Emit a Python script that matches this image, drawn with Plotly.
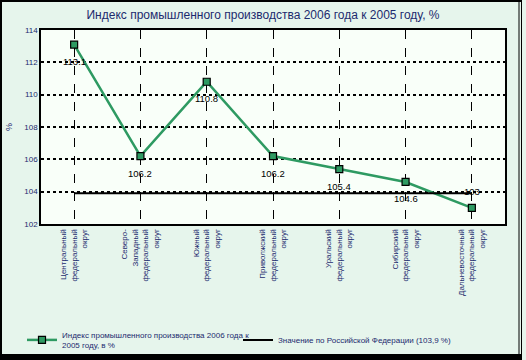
import plotly.graph_objects as go

categories = [
    "Центральный<br>федеральный<br>округ",
    "Северо-<br>Западный<br>федеральный<br>округ",
    "Южный<br>федеральный<br>округ",
    "Приволжский<br>федеральный<br>округ",
    "Уральский<br>федеральный<br>округ",
    "Сибирский<br>федеральный<br>округ",
    "Дальневосточный<br>федеральный<br>округ",
]
index_values = [113.1, 106.2, 110.8, 106.2, 105.4, 104.6, 103.0]
label_texts = ["113.1", "106.2", "110.8", "106.2", "105.4", "104.6", "103"]
label_below = [True, True, True, True, True, True, False]
russia_value = 103.9
y_ticks = [102, 104, 106, 108, 110, 112, 114]

FONT = "Liberation Sans Narrow, Arial Narrow, Liberation Sans, sans-serif"
NAVY = "#1c2a6e"
GREEN = "#2e9a62"

W, H = 526, 360
ML, MR, MT, MB = 41, 21, 30, 136
PW, PH = W - ML - MR, H - MT - MB


def px(x):
    return (x - ML) / PW


def py(y):
    return (H - MB - y) / PH


xs = list(range(len(categories)))

fig = go.Figure()
fig.add_trace(go.Scatter(
    x=xs, y=index_values,
    mode="lines+markers",
    line=dict(color=GREEN, width=2.5),
    marker=dict(symbol="square", size=7, color=GREEN, line=dict(color="black", width=1.2)),
    name="Индекс промышленного производства 2006 года к<br>2005 году, в %",
    legend="legend",
))
fig.add_trace(go.Scatter(
    x=xs, y=[russia_value] * len(categories),
    mode="lines", line=dict(color="black", width=2),
    name="Значение по Российской Федерации (103,9 %)",
    hoverinfo="skip",
    legend="legend2",
))

for xv, yv, t, below in zip(xs, index_values, label_texts, label_below):
    fig.add_annotation(x=xv, y=yv, text=t, showarrow=False,
                       yshift=-17 if below else 16,
                       font=dict(family=FONT, size=9.5, color="black"))

legend_common = dict(font=dict(family=FONT, size=8, color=NAVY),
                     bgcolor="rgba(0,0,0,0)", itemwidth=30, yanchor="middle", xanchor="left")

fig.update_layout(
    width=W, height=H,
    margin=dict(l=ML, r=MR, t=MT, b=MB, autoexpand=False),
    paper_bgcolor="#e6f5ec",
    plot_bgcolor="#f9fff9",
    title=dict(text="Индекс промышленного производства 2006 года к 2005 году, %",
               x=0.5, xanchor="center", y=1 - 15 / H, yanchor="middle",
               font=dict(family=FONT, size=12, color=NAVY)),
    showlegend=True,
    legend=dict(x=px(22), y=py(340), **legend_common),
    legend2=dict(x=px(238), y=py(340), **legend_common),
    xaxis=dict(
        range=[-0.5, 6.5], automargin=False,
        tickmode="array", tickvals=xs, ticktext=categories,
        tickangle=-90, tickfont=dict(family=FONT, size=8, color=NAVY),
        showgrid=True, gridcolor="black", gridwidth=1, griddash="dash",
        showline=True, linecolor="black", linewidth=2, mirror=True,
        zeroline=False, ticks="",
    ),
    yaxis=dict(
        range=[102, 114], tickvals=y_ticks, automargin=False,
        tickfont=dict(family=FONT, size=8, color=NAVY),
        title=dict(text="%", font=dict(family=FONT, size=9, color=NAVY), standoff=10),
        showgrid=True, gridcolor="black", gridwidth=1.5, griddash="dot",
        showline=True, linecolor="black", linewidth=1.5, mirror=True,
        zeroline=False, ticks="",
    ),
)

# outer frame
frame = [
    (0, 1, 522, 1, 2),        # top
    (1, 0, 1, 360, 2),        # left
    (519, 0, 519, 357, 1),    # right inner
    (521.5, 0, 521.5, 360, 1),  # right outer
    (0, 357, 522, 357, 6),    # bottom
]
for x0, y0, x1, y1, w in frame:
    fig.add_shape(type="line", xref="paper", yref="paper",
                  x0=px(x0), y0=py(y0), x1=px(x1), y1=py(y1),
                  line=dict(color="black", width=w), layer="above")

fig.write_html("out.html", config={"displayModeBar": False},
               post_script="document.body.style.margin='0';")
